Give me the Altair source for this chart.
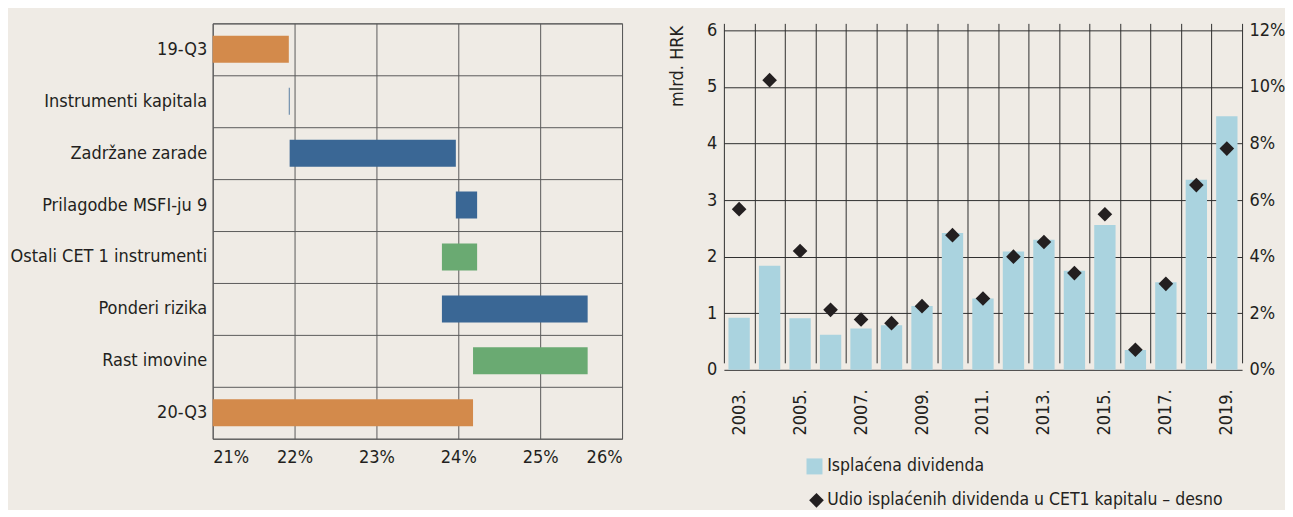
import altair as alt
import pandas as pd

FONT = "DejaVu Sans Condensed"
FS = 18
TEXT = "#231f20"
BG = "#efebe5"

# ---- left chart: CET1 ratio waterfall (in %) ----
left_categories = ["19-Q3", "Instrumenti kapitala", "Zadržane zarade", "Prilagodbe MSFI-ju 9",
                   "Ostali CET 1 instrumenti", "Ponderi rizika", "Rast imovine", "20-Q3"]
left_start = [21.0, 21.93, 21.94, 23.97, 23.80, 23.80, 24.18, 21.0]
left_end = [21.93, 21.94, 23.97, 24.23, 24.23, 25.58, 25.58, 24.18]
left_colors = ["#d38a4b", "#3a6795", "#3a6795", "#3a6795", "#6aaa72", "#3a6795", "#6aaa72", "#d38a4b"]
left_ticks = [21, 22, 23, 24, 25, 26]

# ---- right chart: dividends ----
years = [2003, 2004, 2005, 2006, 2007, 2008, 2009, 2010, 2011, 2012, 2013, 2014, 2015, 2016, 2017, 2018, 2019]
dividend = [0.92, 1.84, 0.91, 0.62, 0.73, 0.79, 1.13, 2.42, 1.26, 2.09, 2.30, 1.75, 2.56, 0.35, 1.55, 3.36, 4.48]
share = [5.68, 10.24, 4.20, 2.12, 1.78, 1.65, 2.25, 4.76, 2.52, 4.00, 4.52, 3.42, 5.50, 0.71, 3.04, 6.53, 7.82]
left_y_ticks = [0, 1, 2, 3, 4, 5, 6]
right_y_ticks = [0, 2, 4, 6, 8, 10, 12]
bar_name = "Isplaćena dividenda"
point_name = "Udio isplaćenih dividenda u CET1 kapitalu – desno"

RH = 347      # right panel height (plot range sits 7px lower than the panel top)
RTOP = 7

left_df = pd.DataFrame({"cat": left_categories, "start": left_start, "end": left_end, "col": left_colors})

left = alt.Chart(left_df, view=alt.ViewBackground(stroke="#5a5a5a", strokeWidth=1)).mark_bar(
    height={"band": 0.52}
).encode(
    y=alt.Y("cat:N", sort=left_categories,
            scale=alt.Scale(paddingInner=0, paddingOuter=0),
            axis=alt.Axis(title=None, tickBand="extent", grid=True, gridColor="#5a5a5a",
                          ticks=False, domain=False, labelPadding=6, labelLimit=400)),
    x=alt.X("start:Q", scale=alt.Scale(domain=[21, 26], nice=False, zero=False),
            axis=alt.Axis(title=None, values=left_ticks, labelExpr="datum.value + '%'",
                          grid=True, gridColor="#5a5a5a", ticks=False, tickSize=0,
                          domain=False, labelPadding=10)),
    x2="end:Q",
    color=alt.Color("col:N", scale=None),
).properties(width=410, height=416)

right_df = pd.DataFrame({"year": years, "dividend": dividend, "share": share,
                         "bname": [bar_name] * len(years), "pname": [point_name] * len(years)})

bars = alt.Chart(right_df).mark_bar(width={"band": 0.7}).encode(
    x=alt.X("year:O", scale=alt.Scale(paddingInner=0, paddingOuter=0),
            axis=alt.Axis(title=None, tickBand="extent", grid=True, gridColor="#2f2f2f",
                          ticks=False, tickSize=0, domain=False, labelAngle=-90, labelPadding=19,
                          labelExpr="datum.value % 2 == 1 ? datum.value + '.' : ''")),
    y=alt.Y("dividend:Q", scale=alt.Scale(domain=[0, 6], nice=False, range=[RH, RTOP]),
            axis=alt.Axis(title="mlrd. HRK", values=left_y_ticks, grid=True, gridColor="#2f2f2f",
                          ticks=False, tickSize=0, domain=False, labelPadding=7,
                          titleAngle=-90, titleAlign="right", titleBaseline="alphabetic",
                          titleX=-41, titleY=2)),
    fill=alt.Fill("bname:N", scale=alt.Scale(domain=[bar_name], range=["#aad3df"]),
                  legend=alt.Legend(title=None, orient="none", legendX=82, legendY=435,
                                    symbolType="square", symbolSize=256, symbolStrokeWidth=0,
                                    labelOffset=4)),
)

points = alt.Chart(right_df).mark_point(filled=True, size=215, color=TEXT, opacity=1).encode(
    x=alt.X("year:O"),
    y=alt.Y("share:Q", scale=alt.Scale(domain=[0, 12], nice=False, range=[RH, RTOP]),
            axis=alt.Axis(title=None, orient="right", values=right_y_ticks,
                          labelExpr="datum.value + '%'", grid=False, ticks=False, tickSize=0,
                          domain=False, labelPadding=7)),
    shape=alt.Shape("pname:N", scale=alt.Scale(domain=[point_name], range=["diamond"]),
                    legend=alt.Legend(title=None, orient="none", legendX=84, legendY=469,
                                      symbolSize=215, symbolFillColor=TEXT, symbolStrokeColor=TEXT,
                                      symbolStrokeWidth=0, labelOffset=2)),
)

right = alt.layer(bars, points, view=alt.ViewBackground(strokeOpacity=0, strokeWidth=0)).resolve_scale(
    y="independent"
).properties(width=519, height=RH)

chart = alt.hconcat(left, right, spacing=45).resolve_legend(
    fill="independent", shape="independent"
).properties(
    background=BG,
    padding={"left": 1, "top": 5, "right": 0, "bottom": 0},
).configure_axis(
    labelFont=FONT, labelFontSize=FS, labelColor=TEXT,
    titleFont=FONT, titleFontSize=FS, titleColor=TEXT, titleFontWeight="normal",
).configure_legend(
    labelFont=FONT, labelFontSize=17.5, labelColor=TEXT, labelLimit=600,
).configure_view(stroke="#444444")

chart.save("out.html", embed_options={"renderer": "svg", "actions": False})
